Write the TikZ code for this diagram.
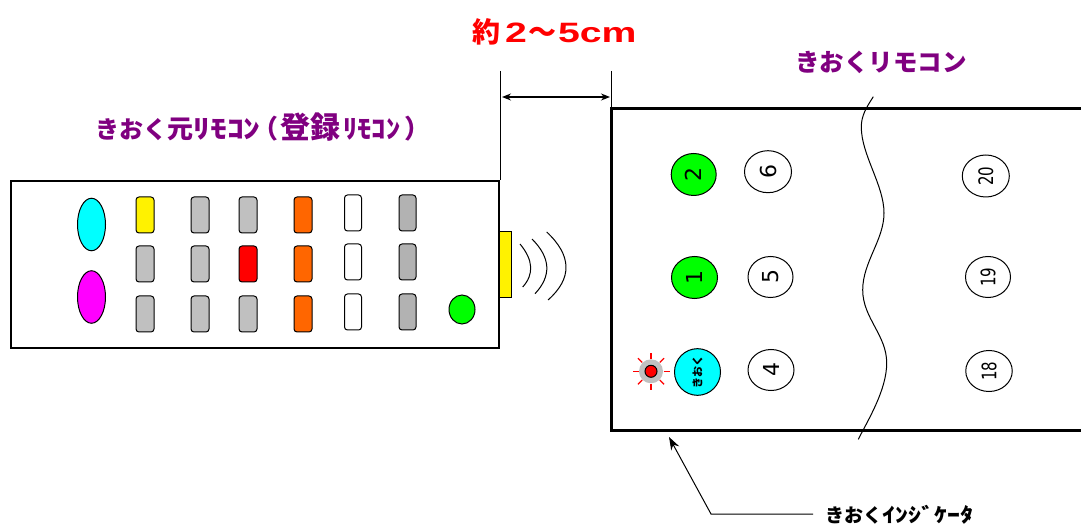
\documentclass[tikz,border=0pt]{standalone}
\usepackage{fontspec}
\newfontfamily\jpfont{Noto Sans CJK JP}
\newfontfamily\jpwide[FakeStretch=1.3]{Noto Sans CJK JP}
\newfontfamily\jpsemi[FakeStretch=1.1]{Noto Sans CJK JP}
\newfontfamily\latinwide[FakeStretch=1.4]{Liberation Sans}
\newfontfamily\narrowdigits[FakeStretch=0.75]{DejaVu Sans}
\setmainfont{DejaVu Sans}
\usetikzlibrary{arrows.meta,shapes.geometric}
\definecolor{keygray}{HTML}{C0C0C0}
\definecolor{darkkey}{HTML}{B2B2B2}
\definecolor{keyorange}{HTML}{FF6600}
\definecolor{titlepurple}{HTML}{800080}
\definecolor{lampgreen}{HTML}{00FF00}
\definecolor{keycyan}{HTML}{00FFFF}
\definecolor{keymagenta}{HTML}{FF00FF}
\newcommand{\jpsize}[1]{\fontsize{#1}{#1}\selectfont}

\begin{document}
\begin{tikzpicture}[x=1pt,y=-1pt,
    keycap/.style={draw,rounded corners=3pt,inner sep=0pt,line width=1pt,minimum width=18pt,minimum height=36pt},
    oval/.style={draw,ellipse,inner sep=0pt,line width=1pt},
    numkey/.style={oval,rotate=90,font=\jpsize{22}},
    widekey/.style={oval,rotate=90,font=\narrowdigits\jpsize{20}},
    title/.style={font=\jpfont\bfseries,inner sep=0pt}]
  \useasboundingbox (0,0) rectangle (1081,526);
  \node[draw,line width=1.2pt,minimum width=488pt,minimum height=167pt,inner sep=0pt] (sender) at (255,264.5) {};
  \node[oval,fill=keycyan,minimum width=28pt,minimum height=52.5pt] (powerkey) at (91.5,224.5) {};
  \node[oval,fill=keymagenta,minimum width=28pt,minimum height=52.5pt] (modekey) at (91.5,297) {};
  \foreach \cx/\cy/\col in {
    145/215/yellow, 145/264/keygray, 145/314/keygray,
    200/215/keygray, 200/264/keygray, 200/314/keygray,
    248/215/keygray, 248/264/red, 248/314/keygray,
    303/215/keyorange, 303/264/keyorange, 303/314/keyorange}
    \node[keycap,fill=\col] at (\cx,\cy) {};
  \foreach \cy in {213,262,312}{
    \node[keycap,fill=white,minimum width=17pt] at (353,\cy) {};
    \node[keycap,fill=darkkey,minimum width=17pt] at (407.5,\cy) {};
  }
  \node[oval,fill=lampgreen,minimum width=26pt,minimum height=29pt] (sendkey) at (462,309.5) {};
  \node[draw,fill=yellow,line width=1pt,minimum width=11.5pt,minimum height=66pt,inner sep=0pt] (emitter) at (505.5,265) {};
  \draw[line width=1pt] (520,244) .. controls (533.3,260) and (534.2,274.3) .. (522.7,287);
  \draw[line width=1pt] (532,239) .. controls (550.7,257.7) and (551.7,275.9) .. (535,293.7);
  \draw[line width=1pt] (546.7,232) .. controls (572,255.6) and (572.4,278.5) .. (548,300);

  \coordinate (gapleft) at (500,71);
  \coordinate (gapright) at (611,71);
  \coordinate (gaparrow) at (555,97);
  \draw[line width=1pt] (gapleft) -- (gapleft |- sender.north);
  \draw[line width=1pt] (gapright) -- (611,109);
  \draw[{Stealth[length=9pt,width=7pt]}-{Stealth[length=9pt,width=7pt]},line width=1.2pt]
    (gapleft |- gaparrow) ++(2,0) -- ([xshift=-1pt]gapright |- gaparrow);
  \node[title,text=red,anchor=west] (gaplabel) at (472,32) {\jpsize{28}約\hspace{5pt}{\latinwide 2}\hspace{1pt}～\hspace{2pt}{\latinwide 5cm}};

  \draw[line width=3pt] (1081,109) -- (611,109) -- (611,430) -- (1081,430);
  \draw[line width=1pt] (873.3,96.7) .. controls (866,108) and (861.3,116) .. (861.3,127)
    .. controls (861.3,155) and (884,185) .. (884,213)
    .. controls (884,240) and (862.7,262) .. (862.7,290)
    .. controls (862.7,318) and (886.7,335) .. (886.7,363)
    .. controls (886.7,390) and (868,420) .. (858.3,439.3);

  \node[numkey,fill=lampgreen,minimum width=42pt,minimum height=45pt] (keytwo) at (693.7,174.5) {2};
  \node[numkey,minimum width=42pt,minimum height=47pt] (keysix) at (768,171.7) {6};
  \node[numkey,fill=lampgreen,minimum width=42pt,minimum height=46pt] (keyone) at (694.5,277.5) {1};
  \node[numkey,minimum width=41pt,minimum height=45pt] (keyfive) at (770.5,277) {5};
  \node[numkey,fill=keycyan,minimum width=42pt,minimum height=46pt,font=\jpfont\bfseries\jpsize{11}] (keymemo) at (697.5,372) {きおく};
  \node[numkey,minimum width=41pt,minimum height=46pt] (keyfour) at (771,370) {4};
  \node[widekey,minimum width=42pt,minimum height=47pt] (keytwenty) at (985.8,176) {20};
  \node[widekey,minimum width=41pt,minimum height=45pt] (keynineteen) at (988,277) {19};
  \node[widekey,minimum width=41pt,minimum height=46.5pt] (keyeighteen) at (989,371) {18};

  \node[circle,fill=keygray,minimum size=24pt,inner sep=0pt] (glow) at (651,371.3) {};
  \node[circle,draw,fill=red,line width=1pt,minimum size=12pt,inner sep=0pt] (lamp) at (651,371.3) {};
  \foreach \a in {0,45,...,315}
    \draw[red,line width=1.2pt] (lamp.center) ++(\a:12.5) -- ++(\a:6);

  \node[title,text=titlepurple,anchor=west] (sendertitle) at (95,127) {\jpsize{24}きおく\jpsize{26}元{\jpwide ﾘﾓｺﾝ}\hspace{-8.6pt}（\hspace{2pt}\jpsize{30}登録\jpsize{26}\hspace{3pt}{\jpsemi ﾘﾓｺﾝ}\hspace{4pt}）};
  \node[title,text=titlepurple] (receivertitle) at (881,62) {\jpsize{24.5}きおくリモコン};
  \node[title,anchor=west] (indicatorlabel) at (825,515) {\jpsize{19}きおく\jpsize{20}{\jpwide ｲﾝｼﾞｹｰﾀ}};
  \coordinate (indicatortip) at (669,437);
  \coordinate (indicatorbend) at (711,514);
  \draw[-{Stealth[length=13pt,width=9pt]},line width=1pt,shorten <=12pt]
    (indicatorlabel.west |- indicatorbend) -- (indicatorbend) -- (indicatortip);
\end{tikzpicture}
\end{document}
